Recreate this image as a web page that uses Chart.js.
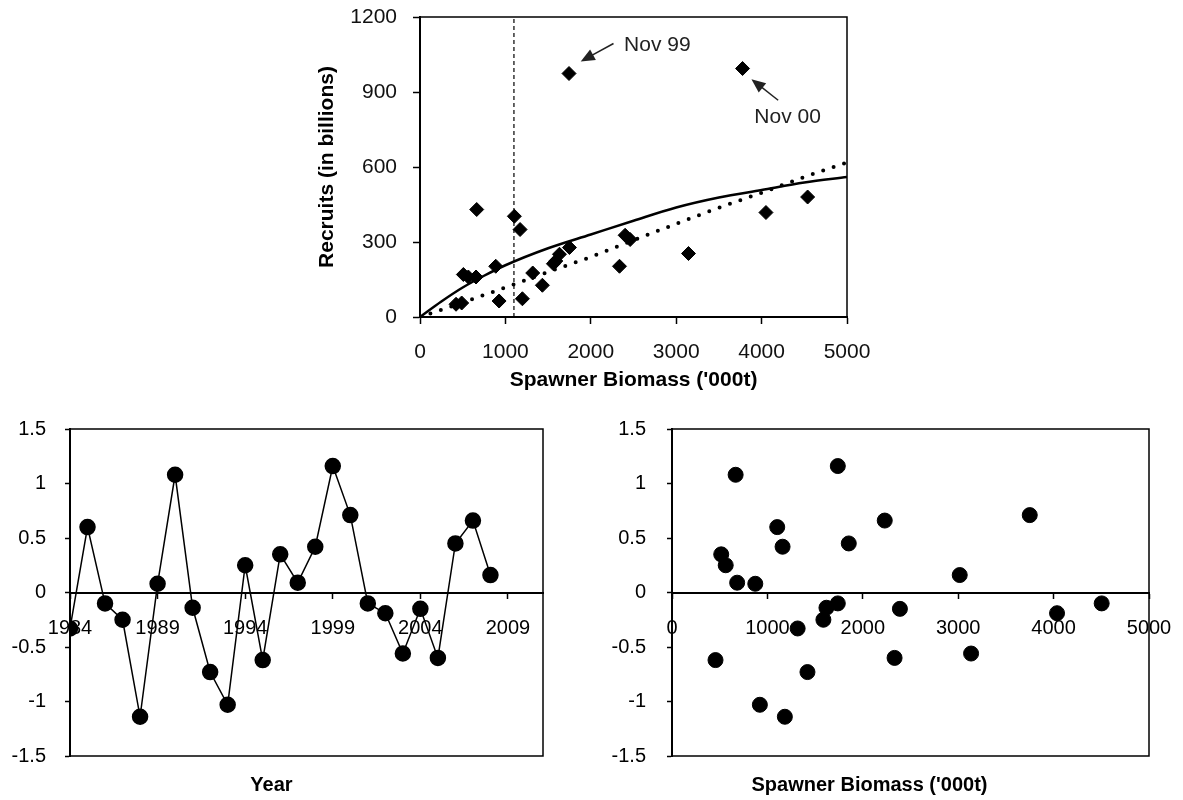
<!DOCTYPE html>
<html>
<head>
<meta charset="utf-8">
<script src="https://cdn.jsdelivr.net/npm/chart.js@4.4.1/dist/chart.umd.min.js"></script>
<style>
  body { margin: 0; background: #fff; width: 1183px; height: 800px; position: relative; overflow: hidden; }
  .box { position: absolute; }
  #srBox { left: 300px; top: 0; width: 590px; height: 400px; }
  #yearBox { left: 0; top: 410px; width: 560px; height: 390px; }
  #bioBox { left: 590px; top: 410px; width: 593px; height: 390px; }
</style>
</head>
<body>
<div class="box" id="srBox"><canvas id="srChart"></canvas></div>
<div class="box" id="yearBox"><canvas id="yearChart"></canvas></div>
<div class="box" id="bioBox"><canvas id="bioChart"></canvas></div>
<script>
// stock-recruit scatter (top)
const srBiomass = [422, 488, 508, 566, 656, 664, 887, 926, 1105, 1172, 1199, 1320, 1433, 1562, 1590, 1633, 1750, 1745, 2336, 2402, 2461, 3144, 3777, 4051, 4539];
const srRecruits = [51, 56, 170, 160, 160, 430, 203, 64, 403, 350, 73, 176, 127, 213, 224, 251, 278, 974, 203, 327, 310, 254, 994, 418, 480];

// fitted curves
const curveBiomass = [0, 250, 500, 750, 1000, 1500, 2000, 2500, 3000, 3500, 4000, 4500, 5000];
const solidCurve = [0, 62, 118, 165, 207, 275, 330, 385, 438, 478, 508, 538, 560];
const dottedCurve = [0, 29, 58, 88, 118, 180, 240, 307, 373, 437, 497, 560, 618];
const cutoffBiomass = 1100;

// residuals (bottom charts)
const residYears = [1984, 1985, 1986, 1987, 1988, 1989, 1990, 1991, 1992, 1993, 1994, 1995, 1996,
  1997, 1998, 1999, 2000, 2001, 2002, 2003, 2004, 2005, 2006, 2007, 2008];
const residuals = [-0.33, 0.60, -0.10, -0.25, -1.14, 0.08, 1.08, -0.14, -0.73, -1.03, 0.25, -0.62, 0.35,
  0.09, 0.42, 1.16, 0.71, -0.10, -0.19, -0.56, -0.15, -0.60, 0.45, 0.66, 0.16];
const residBiomass = [1317, 1103, 4504, 1587, 1183, 873, 667, 1619, 1420, 921, 563, 456, 516,
  683, 1159, 1738, 3750, 1738, 4036, 3135, 2389, 2333, 1853, 2230, 3016];

const yearTicks = [1984, 1989, 1994, 1999, 2004, 2009];

const notes = [
  { text: "Nov 99", x: 2390, y: 1087, fromX: 2266, fromY: 1094, toX: 1882, toY: 1022 },
  { text: "Nov 00", x: 3915, y: 798, fromX: 4194, fromY: 867, toX: 3881, toY: 951 }
];

Chart.defaults.font.family = '"Liberation Sans", Arial, sans-serif';
Chart.defaults.color = "#000";
Chart.defaults.animation = false;
Chart.defaults.plugins.legend.display = false;
Chart.defaults.plugins.tooltip.enabled = false;

const plain = v => String(v);

// box round the plot area
const frame = {
  id: "frame",
  beforeDatasetsDraw(chart) {
    const { ctx, chartArea: a } = chart;
    ctx.save();
    ctx.strokeStyle = "#000";
    ctx.lineWidth = 1.5;
    ctx.strokeRect(a.left, a.top, a.right - a.left, a.bottom - a.top);
    ctx.restore();
  }
};

// Nov 99 / Nov 00 labels with arrows
const arrows = {
  id: "arrows",
  afterDatasetsDraw(chart) {
    const { ctx, scales: { x, y } } = chart;
    ctx.save();
    ctx.fillStyle = "#222";
    ctx.strokeStyle = "#222";
    ctx.lineWidth = 1.5;
    ctx.font = '21px "Liberation Sans", Arial, sans-serif';
    ctx.textBaseline = "middle";
    notes.forEach(n => {
      ctx.fillText(n.text, x.getPixelForValue(n.x), y.getPixelForValue(n.y));
      const x1 = x.getPixelForValue(n.fromX), y1 = y.getPixelForValue(n.fromY);
      const x2 = x.getPixelForValue(n.toX), y2 = y.getPixelForValue(n.toY);
      const ang = Math.atan2(y2 - y1, x2 - x1);
      ctx.beginPath();
      ctx.moveTo(x1, y1);
      ctx.lineTo(x2 - 10 * Math.cos(ang), y2 - 10 * Math.sin(ang));
      ctx.stroke();
      ctx.beginPath();
      ctx.moveTo(x2, y2);
      ctx.lineTo(x2 - 14 * Math.cos(ang) + 6 * Math.sin(ang), y2 - 14 * Math.sin(ang) - 6 * Math.cos(ang));
      ctx.lineTo(x2 - 14 * Math.cos(ang) - 6 * Math.sin(ang), y2 - 14 * Math.sin(ang) + 6 * Math.cos(ang));
      ctx.closePath();
      ctx.fill();
    });
    ctx.restore();
  }
};

function axisStyle(tickLen) {
  return {
    grid: { drawOnChartArea: false, drawTicks: true, tickLength: tickLen, tickColor: "#000", tickWidth: 1.5 },
    border: { color: "#000", width: 2 }
  };
}

// keep the plot area where the layout padding puts it
function fixX(height) {
  return s => {
    if (height) s.height = height;
    s.paddingLeft = 0;
    s.paddingRight = 0;
  };
}
function fixY(width) {
  return s => {
    s.width = width;
    s.paddingTop = 0;
    s.paddingBottom = 0;
  };
}

// top chart
new Chart(document.getElementById("srChart"), {
  type: "scatter",
  data: {
    datasets: [
      {
        data: srBiomass.map((b, i) => ({ x: b, y: srRecruits[i] })),
        pointStyle: "rectRot",
        pointRadius: 7,
        backgroundColor: "#000",
        borderColor: "#000",
        borderWidth: 1
      },
      {
        data: curveBiomass.map((b, i) => ({ x: b, y: solidCurve[i] })),
        showLine: true,
        borderColor: "#000",
        borderWidth: 2.5,
        pointRadius: 0,
        cubicInterpolationMode: "monotone"
      },
      {
        data: curveBiomass.map((b, i) => ({ x: b, y: dottedCurve[i] })),
        showLine: true,
        borderColor: "#000",
        borderWidth: 4,
        borderDash: [0, 11],
        borderCapStyle: "round",
        pointRadius: 0
      },
      {
        data: [{ x: cutoffBiomass, y: 0 }, { x: cutoffBiomass, y: 1200 }],
        showLine: true,
        borderColor: "#000",
        borderWidth: 1.2,
        borderDash: [4, 3],
        pointRadius: 0
      }
    ]
  },
  options: {
    responsive: true,
    maintainAspectRatio: false,
    layout: { padding: { top: 17, right: 43, left: 0, bottom: 0 } },
    scales: {
      x: {
        min: 0, max: 5000,
        ...axisStyle(7),
        ticks: { stepSize: 1000, callback: plain, font: { size: 21 }, padding: 16, maxRotation: 0, color: "#111" },
        title: { display: true, text: "Spawner Biomass ('000t)", font: { size: 21, weight: "bold" }, padding: { top: 0, bottom: 7 } },
        afterFit: fixX(83)
      },
      y: {
        min: 0, max: 1200,
        ...axisStyle(7),
        ticks: { stepSize: 300, callback: plain, font: { size: 21 }, padding: 16, color: "#111" },
        title: { display: true, text: "Recruits (in billions)", font: { size: 21, weight: "bold" }, padding: { top: 15, bottom: 0 } },
        afterFit: fixY(120)
      }
    }
  },
  plugins: [frame, arrows]
});

function residualOptions(xScale, yWidth, rightPad, yPad, titleText) {
  return {
    responsive: true,
    maintainAspectRatio: false,
    layout: { padding: { top: 19, right: rightPad, left: 0, bottom: 0 } },
    plugins: {
      title: {
        display: true, text: titleText, position: "bottom", color: "#000",
        font: { size: 20, weight: "bold" }, padding: { top: 17, bottom: 3 }
      }
    },
    scales: {
      x: Object.assign({
        position: { y: 0 },
        ...axisStyle(5),
        afterFit: fixX(0)
      }, xScale),
      y: {
        min: -1.5, max: 1.5,
        ...axisStyle(5),
        ticks: { stepSize: 0.5, callback: plain, font: { size: 20 }, padding: yPad },
        afterFit: fixY(yWidth)
      }
    }
  };
}

// bottom left: residuals by year
new Chart(document.getElementById("yearChart"), {
  type: "scatter",
  data: {
    datasets: [{
      data: residYears.map((yr, i) => ({ x: yr, y: residuals[i] })),
      showLine: true,
      borderColor: "#000",
      borderWidth: 1.5,
      pointRadius: 7.5,
      backgroundColor: "#000",
      pointBorderColor: "#000"
    }]
  },
  options: residualOptions({
    min: 1984, max: 2011,
    ticks: { callback: plain, font: { size: 20 }, padding: 19, maxRotation: 0, autoSkip: false },
    afterBuildTicks: s => { s.ticks = yearTicks.map(v => ({ value: v })); }
  }, 70, 17, 19, "Year"),
  plugins: [frame]
});

// bottom right: residuals by spawner biomass
new Chart(document.getElementById("bioChart"), {
  type: "scatter",
  data: {
    datasets: [{
      data: residBiomass.map((b, i) => ({ x: b, y: residuals[i] })),
      pointRadius: 7.5,
      backgroundColor: "#000",
      borderColor: "#000"
    }]
  },
  options: residualOptions({
    min: 0, max: 5000,
    ticks: { stepSize: 1000, callback: plain, font: { size: 20 }, padding: 19, maxRotation: 0 }
  }, 82, 34, 21, "Spawner Biomass ('000t)"),
  plugins: [frame]
});
</script>
</body>
</html>
